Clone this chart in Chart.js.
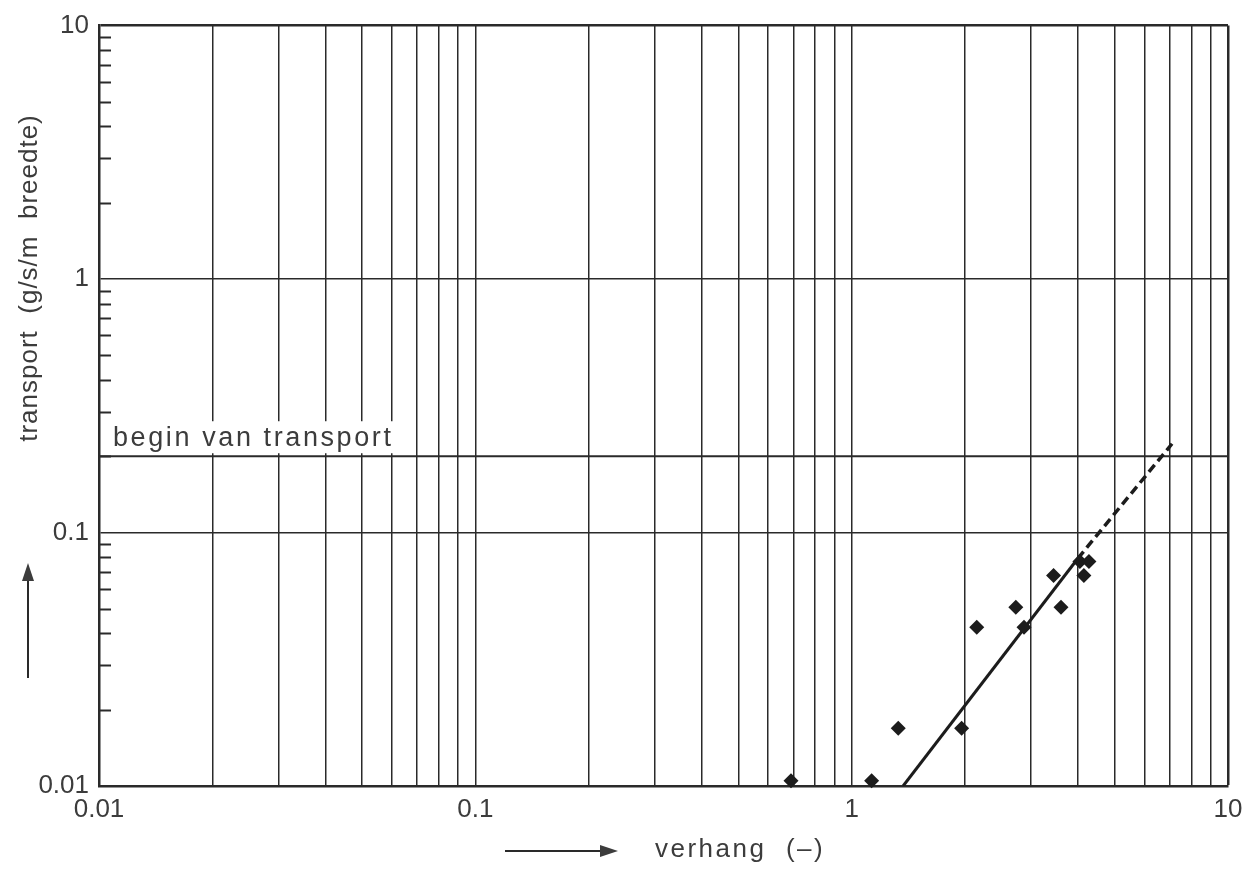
<!DOCTYPE html>
<html>
<head>
    <title>Transport - verhang</title>
    <script src="https://cdn.jsdelivr.net/npm/chart.js"></script>
    <style>
        body {
            margin: 0;
            background: #fff;
        }
    </style>
</head>
<body>
    <canvas id="chart" width="1259" height="869"></canvas>

    <script>
        // measured slope vs. transport
        const slopeValues = [0.69, 1.13, 1.33, 1.96, 2.15, 2.73, 2.87, 3.44, 3.60, 4.04, 4.27, 4.14];
        const transportValues = [0.0105, 0.0105, 0.0169, 0.0169, 0.0423, 0.0507, 0.0423, 0.0677, 0.0507, 0.0769, 0.0769, 0.0677];

        // fitted line, solid part and dashed extension
        const fitX = [1.37, 3.99];
        const fitY = [0.01, 0.079];
        const extX = [3.99, 7.1];
        const extY = [0.079, 0.224];

        // threshold for start of transport
        const thresholdX = [0.01, 10];
        const thresholdY = [0.2, 0.2];
        const thresholdLabel = 'begin van transport';

        // axis ticks
        const xGridTicks = [0.01, 0.02, 0.03, 0.04, 0.05, 0.06, 0.07, 0.08, 0.09,
                            0.1, 0.2, 0.3, 0.4, 0.5, 0.6, 0.7, 0.8, 0.9,
                            1, 2, 3, 4, 5, 6, 7, 8, 9, 10];
        const xLabelTicks = [0.01, 0.1, 1, 10];
        const yLabelTicks = [0.01, 0.1, 1, 10];
        const yMinorTicks = [0.02, 0.03, 0.04, 0.05, 0.06, 0.07, 0.08, 0.09,
                             0.2, 0.3, 0.4, 0.5, 0.6, 0.7, 0.8, 0.9,
                             2, 3, 4, 5, 6, 7, 8, 9];

        const ink = '#2a2a2a';
        const textInk = '#3c3c3c';
        const fontFamily = '"Liberation Sans", Arial, sans-serif';

        function pairs(xs, ys) {
            return xs.map((x, i) => ({x: x, y: ys[i]}));
        }

        function arrow(ctx, x1, y1, x2, y2) {
            const a = Math.atan2(y2 - y1, x2 - x1);
            const len = 18, half = 6;
            ctx.beginPath();
            ctx.moveTo(x1, y1);
            ctx.lineTo(x2 - Math.cos(a) * len * 0.8, y2 - Math.sin(a) * len * 0.8);
            ctx.stroke();
            ctx.beginPath();
            ctx.moveTo(x2, y2);
            ctx.lineTo(x2 - Math.cos(a) * len - Math.sin(a) * half, y2 - Math.sin(a) * len + Math.cos(a) * half);
            ctx.lineTo(x2 - Math.cos(a) * len + Math.sin(a) * half, y2 - Math.sin(a) * len - Math.cos(a) * half);
            ctx.closePath();
            ctx.fill();
        }

        const decor = {
            id: 'decor',
            beforeDatasetsDraw(chart) {
                const ctx = chart.ctx;
                const y = chart.scales.y;
                const area = chart.chartArea;
                ctx.save();

                // short minor ticks along the inside of the left axis
                ctx.strokeStyle = ink;
                ctx.lineWidth = 2;
                yMinorTicks.forEach(v => {
                    const py = Math.round(y.getPixelForValue(v)) + 0.5;
                    ctx.beginPath();
                    ctx.moveTo(area.left, py);
                    ctx.lineTo(area.left + 12, py);
                    ctx.stroke();
                });

                // label above the threshold line, on a white box
                const ly = y.getPixelForValue(thresholdY[0]);
                ctx.font = '27px ' + fontFamily;
                ctx.letterSpacing = '2.6px';
                const w = ctx.measureText(thresholdLabel).width;
                ctx.fillStyle = '#fff';
                ctx.fillRect(area.left + 2, ly - 35, w + 20, 32);
                ctx.fillStyle = textInk;
                ctx.textBaseline = 'alphabetic';
                ctx.textAlign = 'left';
                ctx.fillText(thresholdLabel, area.left + 14, ly - 10);
                ctx.restore();
            },
            afterDraw(chart) {
                const ctx = chart.ctx;
                ctx.save();
                ctx.fillStyle = textInk;
                ctx.strokeStyle = ink;
                ctx.lineWidth = 2;

                // x axis title with arrow
                ctx.font = '26px ' + fontFamily;
                ctx.letterSpacing = '2.5px';
                ctx.textAlign = 'left';
                ctx.textBaseline = 'middle';
                ctx.fillText('verhang  (\u2013)', 655, 850);
                arrow(ctx, 505, 851, 618, 851);

                // y axis title with arrow
                ctx.letterSpacing = '1px';
                ctx.save();
                ctx.translate(30, 278);
                ctx.rotate(-Math.PI / 2);
                ctx.textAlign = 'center';
                ctx.fillText('transport  (g/s/m  breedte)', 0, 0);
                ctx.restore();
                arrow(ctx, 28, 678, 28, 563);
                ctx.restore();
            }
        };

        const ctx = document.getElementById('chart').getContext('2d');
        new Chart(ctx, {
            type: 'scatter',
            data: {
                datasets: [{
                    label: 'metingen',
                    data: pairs(slopeValues, transportValues),
                    pointStyle: 'rectRot',
                    pointRadius: 7.5,
                    pointHoverRadius: 7.5,
                    backgroundColor: '#1c1c1c',
                    borderColor: '#1c1c1c',
                    borderWidth: 0,
                    clip: false
                }, {
                    label: 'fit',
                    data: pairs(fitX, fitY),
                    showLine: true,
                    borderColor: '#1c1c1c',
                    borderWidth: 3,
                    pointRadius: 0
                }, {
                    label: 'fit extrapolatie',
                    data: pairs(extX, extY),
                    showLine: true,
                    borderColor: '#1c1c1c',
                    borderWidth: 3.5,
                    borderDash: [9, 5],
                    pointRadius: 0,
                    clip: false
                }, {
                    label: thresholdLabel,
                    data: pairs(thresholdX, thresholdY),
                    showLine: true,
                    borderColor: ink,
                    borderWidth: 2,
                    pointRadius: 0
                }]
            },
            options: {
                responsive: false,
                animation: false,
                events: [],
                layout: {
                    padding: {top: 24, right: 31, left: 0, bottom: 0}
                },
                plugins: {
                    legend: {display: false},
                    tooltip: {enabled: false}
                },
                scales: {
                    x: {
                        type: 'logarithmic',
                        min: 0.01,
                        max: 10,
                        afterFit: s => { s.height = 83; },
                        afterBuildTicks: s => { s.ticks = xGridTicks.map(v => ({value: v})); },
                        border: {display: true, color: ink, width: 2.5},
                        grid: {
                            drawTicks: false,
                            color: ink,
                            lineWidth: c => (c.tick && c.tick.value === 10 ? 2.5 : 1.5)
                        },
                        ticks: {
                            autoSkip: false,
                            maxRotation: 0,
                            padding: 8,
                            color: textInk,
                            font: {family: fontFamily, size: 26},
                            callback: v => (xLabelTicks.includes(v) ? String(v) : '')
                        }
                    },
                    y: {
                        type: 'logarithmic',
                        min: 0.01,
                        max: 10,
                        afterFit: s => { s.width = 99; },
                        afterBuildTicks: s => { s.ticks = yLabelTicks.map(v => ({value: v})); },
                        border: {display: true, color: ink, width: 2.5},
                        grid: {
                            drawTicks: false,
                            color: ink,
                            lineWidth: c => (c.tick && c.tick.value === 10 ? 2.5 : 1.5)
                        },
                        ticks: {
                            autoSkip: false,
                            padding: 10,
                            color: textInk,
                            font: {family: fontFamily, size: 26},
                            callback: v => String(v)
                        }
                    }
                }
            },
            plugins: [decor]
        });
    </script>
</body>
</html>
